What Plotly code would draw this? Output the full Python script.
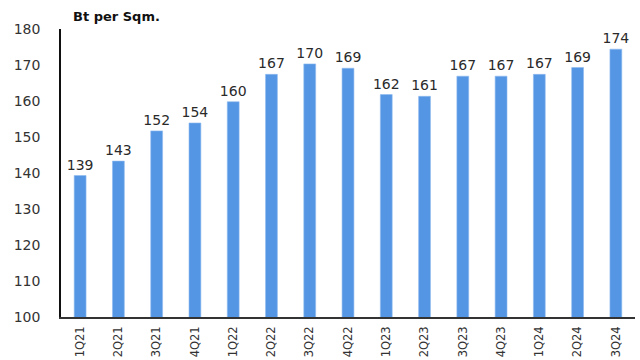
import plotly.graph_objects as go

quarters = ["1Q21", "2Q21", "3Q21", "4Q21", "1Q22", "2Q22", "3Q22", "4Q22",
            "1Q23", "2Q23", "3Q23", "4Q23", "1Q24", "2Q24", "3Q24"]
price = [139.3, 143.3, 151.7, 153.9, 159.8, 167.4, 170.3, 169.1,
         161.8, 161.3, 166.9, 166.9, 167.4, 169.3, 174.4]
y_ticks = [100, 110, 120, 130, 140, 150, 160, 170, 180]
unit_label = "Bt per Sqm."

FONT = "DejaVu Sans"

fig = go.Figure(go.Bar(
    x=quarters, y=price,
    marker=dict(color="#5596e4", line=dict(color="#8fbaf0", width=0.6)),
    texttemplate="%{y:.0f}", textposition="outside",
    textfont=dict(family=FONT, size=14, color="#2a2a2a"),
    constraintext="none", cliponaxis=False,
))

fig.update_layout(
    width=640, height=360,
    margin=dict(l=61, r=5, t=29, b=43, autoexpand=False),
    paper_bgcolor="white", plot_bgcolor="white",
    bargap=0.69, showlegend=False,
    font=dict(family=FONT, color="#222222"),
    annotations=[dict(text="<b>" + unit_label + "</b>", xref="paper", yref="paper",
                      x=0.017, y=1, xanchor="left", yanchor="bottom", yshift=3,
                      showarrow=False,
                      font=dict(family=FONT, size=13, color="#111111"))],
)
fig.update_yaxes(range=[100, 180], tickvals=y_ticks, showgrid=False,
                 showline=True, linecolor="#111111", linewidth=1.5,
                 ticks="", ticklabelstandoff=16, automargin=False,
                 tickfont=dict(family=FONT, size=14, color="#333333"), zeroline=False)
fig.update_xaxes(showgrid=False, showline=True, linecolor="#333333", linewidth=1.5,
                 tickangle=-90, ticks="", ticklabelstandoff=3, automargin=False,
                 tickfont=dict(family=FONT, size=11.5, color="#333333"))

fig.write_html("out.html")
